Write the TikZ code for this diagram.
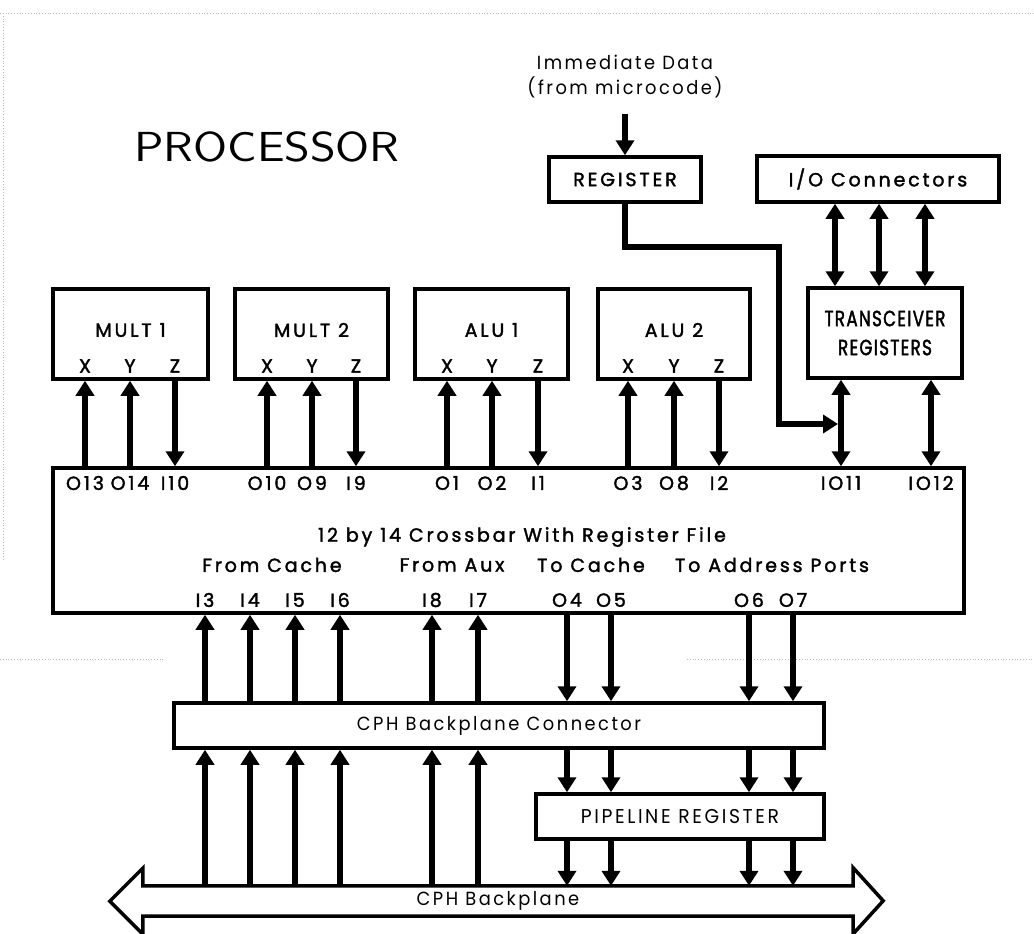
\documentclass[tikz,border=0pt]{standalone}
\usepackage{fontspec}
\setmainfont{Poppins}[LetterSpace=15,FakeBold=1.8]
\newfontfamily\lightfont{Poppins}[LetterSpace=13,FakeStretch=0.94]
\newfontfamily\narrowfont{Poppins}[FakeStretch=0.76,LetterSpace=6,FakeBold=1.8]
\newfontfamily\thinfont{Latin Modern Sans}[FakeStretch=1.17]
\usepackage{tikz}
\usetikzlibrary{arrows.meta,positioning}
\tikzset{
  blk/.style={draw, line width=3.5pt, inner sep=0pt, align=center, font=\fontsize{19}{22}\selectfont},
  lbl/.style={inner sep=1pt, font=\fontsize{19}{25}\selectfont},
  port/.style={inner sep=0pt, font=\fontsize{19}{20}\selectfont},
  bus/.style={line width=6pt, -{Triangle[length=15pt,width=18pt]}},
  bibus/.style={line width=6pt, {Triangle[length=15pt,width=18pt]}-{Triangle[length=15pt,width=18pt]}},
  scan/.style={gray!55, dotted, line width=0.8pt},
}

\begin{document}
\begin{tikzpicture}[x=1pt, y=-1pt]
  \useasboundingbox (0,0) rectangle (1034,934);

  % page marks of the scan
  \draw[scan] (0,13) -- (1034,13);
  \draw[scan] (3,13) -- (3,560);
  \draw[scan] (0,659) -- (165,659);
  \draw[scan] (687,659) -- (1034,659);

  % title
  \node[font=\thinfont\fontsize{42}{46}\selectfont] (title) at (267,147) {PROCESSOR};

  % immediate data, register, I/O
  \node[lbl, align=center, font=\lightfont\fontsize{19}{25}\selectfont] (imm) at (625,77) {Immediate Data\\(from microcode)};
  \node[blk, minimum width=152pt, minimum height=45pt] (reg) at (625,179.5) {REGISTER};
  \node[blk, minimum width=242pt, minimum height=46pt] (ioc) at (878,179) {I/O Connectors};
  \draw[bus] ([yshift=-14pt]imm.south) -- (reg.north);

  % functional units
  \node[blk, minimum width=155pt, minimum height=90pt] (mult1) at (130.5,334) {};
  \node[blk, minimum width=153pt, minimum height=90pt] (mult2) at (311.5,334) {};
  \node[blk, minimum width=153pt, minimum height=90pt] (alu1) at (491.5,334) {};
  \node[blk, minimum width=152pt, minimum height=90pt] (alu2) at (674,334) {};
  \node[blk, minimum width=154pt, minimum height=90pt, font=\narrowfont\fontsize{22}{29}\selectfont] (trx) at (885,333) {TRANSCEIVER\\REGISTERS};
  \node[lbl] (mult1t) at ([yshift=4pt]mult1.center) {MULT 1};
  \node[lbl] (mult2t) at ([yshift=4pt]mult2.center) {MULT 2};
  \node[lbl] (alu1t) at ([yshift=4pt]alu1.center) {ALU 1};
  \node[lbl] (alu2t) at ([yshift=4pt]alu2.center) {ALU 2};

  % crossbar
  \node[blk, minimum width=911pt, minimum height=145pt] (xbar) at (508.5,540.5) {};
  \node[lbl] (xbart) at (522,537) {12 by 14 Crossbar With Register File};
  \node[lbl] (fcache) at (272,565) {From Cache};
  \node[lbl] (faux) at (452,565) {From Aux};
  \node[lbl] (tcache) at (591,565) {To Cache};
  \node[lbl] (taddr) at (772,565) {To Address Ports};

  % crossbar ports, top
  \node[port] (o13) at (85,483) {O13};
  \node[port] (o14) at (130,483) {O14};
  \node[port] (i10) at (175,483) {I10};
  \node[port] (o10) at (267,483) {O10};
  \node[port] (o9) at (312,483) {O9};
  \node[port] (i9) at (356,483) {I9};
  \node[port] (o1) at (447,483) {O1};
  \node[port] (o2) at (492,483) {O2};
  \node[port] (i1) at (538,483) {I1};
  \node[port] (o3) at (628,483) {O3};
  \node[port] (o8) at (674,483) {O8};
  \node[port] (i2) at (719,483) {I2};
  \node[port] (io11) at (841,483) {IO11};
  \node[port] (io12) at (931,483) {IO12};

  % crossbar ports, bottom
  \node[port] (i13) at (205,600) {I3};
  \node[port] (i14) at (250,600) {I4};
  \node[port] (i15) at (295,600) {I5};
  \node[port] (i16) at (340,600) {I6};
  \node[port] (i18) at (432,600) {I8};
  \node[port] (i17) at (478,600) {I7};
  \node[port] (o4) at (567,600) {O4};
  \node[port] (o5) at (611,600) {O5};
  \node[port] (o6) at (749,600) {O6};
  \node[port] (o7) at (793,600) {O7};

  % unit operands
  \node[port] (m1x) at (o13 |- 0,366) {X};
  \node[port] (m1y) at (o14 |- 0,366) {Y};
  \node[port] (m1z) at (i10 |- 0,366) {Z};
  \node[port] (m2x) at (o10 |- 0,366) {X};
  \node[port] (m2y) at (o9 |- 0,366) {Y};
  \node[port] (m2z) at (i9 |- 0,366) {Z};
  \node[port] (a1x) at (o1 |- 0,366) {X};
  \node[port] (a1y) at (o2 |- 0,366) {Y};
  \node[port] (a1z) at (i1 |- 0,366) {Z};
  \node[port] (a2x) at (o3 |- 0,366) {X};
  \node[port] (a2y) at (o8 |- 0,366) {Y};
  \node[port] (a2z) at (i2 |- 0,366) {Z};

  \draw[bus] (o13 |- xbar.north) -- (o13 |- mult1.south);
  \draw[bus] (o14 |- xbar.north) -- (o14 |- mult1.south);
  \draw[bus] (i10 |- mult1.south) -- (i10 |- xbar.north);
  \draw[bus] (o10 |- xbar.north) -- (o10 |- mult2.south);
  \draw[bus] (o9 |- xbar.north) -- (o9 |- mult2.south);
  \draw[bus] (i9 |- mult2.south) -- (i9 |- xbar.north);
  \draw[bus] (o1 |- xbar.north) -- (o1 |- alu1.south);
  \draw[bus] (o2 |- xbar.north) -- (o2 |- alu1.south);
  \draw[bus] (i1 |- alu1.south) -- (i1 |- xbar.north);
  \draw[bus] (o3 |- xbar.north) -- (o3 |- alu2.south);
  \draw[bus] (o8 |- xbar.north) -- (o8 |- alu2.south);
  \draw[bus] (i2 |- alu2.south) -- (i2 |- xbar.north);

  % transceivers
  \draw[bibus] (io11 |- trx.south) -- (io11 |- xbar.north);
  \draw[bibus] (io12 |- trx.south) -- (io12 |- xbar.north);
  \draw[bibus] (835,0 |- ioc.south) -- (835,0 |- trx.north);
  \draw[bibus] (879,0 |- ioc.south) -- (879,0 |- trx.north);
  \draw[bibus] (925,0 |- ioc.south) -- (925,0 |- trx.north);
  \coordinate (join) at ([xshift=-3pt]io11 |- 0,424);
  \draw[bus, line join=miter] (reg.south) -- ++(0,43) -| (779,424) -- (join);

  % backplane side
  \node[blk, minimum width=650pt, minimum height=45pt, font=\lightfont\fontsize{19}{22}\selectfont] (bpc) at (499,725.5) {CPH Backplane Connector};
  \node[blk, minimum width=288pt, minimum height=45pt, font=\lightfont\fontsize{20}{22}\selectfont] (pipe) at (680,816.5) {PIPELINE REGISTER};
  \node[lbl, minimum width=710pt, minimum height=30pt, inner sep=0pt, font=\lightfont\fontsize{19}{22}\selectfont] (bp) at (498,901) {CPH Backplane};
  \draw[line width=3.5pt, line join=miter] (bp.north west) -- (bp.north east) -- ++(0,-18) -- ++(30,33)
    -- ++(-30,33) -- (bp.south east) -- (bp.south west) -- ++(0,18) -- ++(-33,-33) -- ++(33,-33) -- cycle;

  \draw[bus] (i13 |- bpc.north) -- (i13 |- xbar.south);
  \draw[bus] (i14 |- bpc.north) -- (i14 |- xbar.south);
  \draw[bus] (i15 |- bpc.north) -- (i15 |- xbar.south);
  \draw[bus] (i16 |- bpc.north) -- (i16 |- xbar.south);
  \draw[bus] (i18 |- bpc.north) -- (i18 |- xbar.south);
  \draw[bus] (i17 |- bpc.north) -- (i17 |- xbar.south);
  \draw[bus] (i13 |- bp.north) -- (i13 |- bpc.south);
  \draw[bus] (i14 |- bp.north) -- (i14 |- bpc.south);
  \draw[bus] (i15 |- bp.north) -- (i15 |- bpc.south);
  \draw[bus] (i16 |- bp.north) -- (i16 |- bpc.south);
  \draw[bus] (i18 |- bp.north) -- (i18 |- bpc.south);
  \draw[bus] (i17 |- bp.north) -- (i17 |- bpc.south);

  \draw[bus] (o4 |- xbar.south) -- (o4 |- bpc.north);
  \draw[bus] (o5 |- xbar.south) -- (o5 |- bpc.north);
  \draw[bus] (o6 |- xbar.south) -- (o6 |- bpc.north);
  \draw[bus] (o7 |- xbar.south) -- (o7 |- bpc.north);
  \draw[bus] (o4 |- bpc.south) -- (o4 |- pipe.north);
  \draw[bus] (o5 |- bpc.south) -- (o5 |- pipe.north);
  \draw[bus] (o6 |- bpc.south) -- (o6 |- pipe.north);
  \draw[bus] (o7 |- bpc.south) -- (o7 |- pipe.north);
  \draw[bus] (o4 |- pipe.south) -- (o4 |- bp.north);
  \draw[bus] (o5 |- pipe.south) -- (o5 |- bp.north);
  \draw[bus] (o6 |- pipe.south) -- (o6 |- bp.north);
  \draw[bus] (o7 |- pipe.south) -- (o7 |- bp.north);
\end{tikzpicture}
\end{document}
